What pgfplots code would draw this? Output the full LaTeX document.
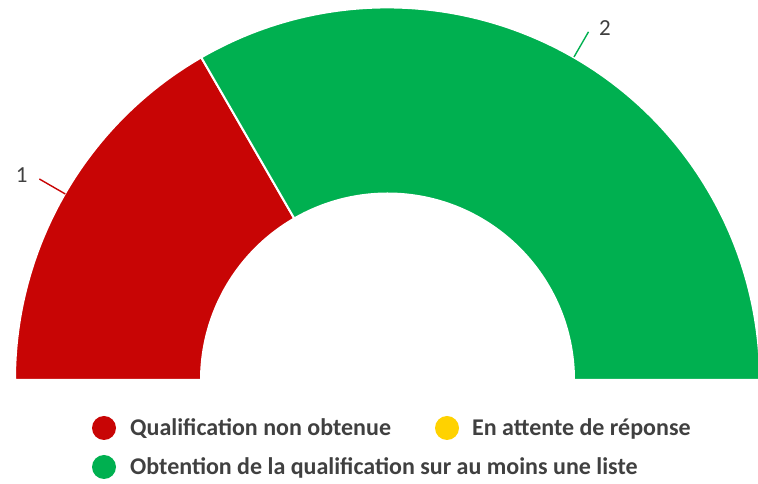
\documentclass[border=0pt]{standalone}
\usepackage{fontspec}
\setmainfont{Carlito}
\usepackage{pgfplots}
\usepackage{pgfplotstable}
\pgfplotsset{compat=1.18}

\definecolor{cRed}{RGB}{200,5,5}
\definecolor{cYellow}{RGB}{255,210,0}
\definecolor{cGreen}{RGB}{0,176,80}
\definecolor{cText}{RGB}{64,64,64}

% one row per category: value shown on the half donut
\pgfplotstableread{
id value
1 1
2 0
3 2
}\slices

\begin{document}
\begin{tikzpicture}
% angles of the half donut (180 -> 0 degrees), from the table
\pgfplotstablegetelem{0}{value}\of\slices \let\vA\pgfplotsretval
\pgfplotstablegetelem{1}{value}\of\slices \let\vB\pgfplotsretval
\pgfplotstablegetelem{2}{value}\of\slices \let\vC\pgfplotsretval
\pgfmathsetmacro\tot{\vA+\vB+\vC}
\pgfmathsetmacro\aA{180-180*\vA/\tot}
\pgfmathsetmacro\aB{\aA-180*\vB/\tot}
\pgfmathsetmacro\aC{\aB-180*\vC/\tot}
\pgfmathsetmacro\mA{(180+\aA)/2}
\pgfmathsetmacro\mC{(\aB+\aC)/2}
\def\Ro{372.5}
\def\Ri{186.5}
\begin{axis}[
  x=1pt, y=1pt,
  xmin=-387.5, xmax=370.5, ymin=-104, ymax=380,
  hide axis, clip=true,
]
\coordinate (ll) at (axis cs:-387.5,-104);
\coordinate (ur) at (axis cs:370.5,380);
% red slice
\fill[cRed, draw=white, line width=2pt]
  (axis cs:{\Ro*cos(180)},{\Ro*sin(180)}) arc[start angle=180, end angle=\aA, radius=\Ro pt]
  -- (axis cs:{\Ri*cos(\aA)},{\Ri*sin(\aA)}) arc[start angle=\aA, end angle=180, radius=\Ri pt] -- cycle;
% green slice
\fill[cGreen, draw=white, line width=2pt]
  (axis cs:{\Ro*cos(\aB)},{\Ro*sin(\aB)}) arc[start angle=\aB, end angle=\aC, radius=\Ro pt]
  -- (axis cs:{\Ri*cos(\aC)},{\Ri*sin(\aC)}) arc[start angle=\aC, end angle=\aB, radius=\Ri pt] -- cycle;
% data labels with leader lines
\draw[cRed, line width=1.4pt] (axis cs:{372*cos(\mA)},{372*sin(\mA)}) -- (axis cs:{402*cos(\mA)},{402*sin(\mA)})
  node[anchor=east, text=cText, font=\fontsize{23}{26}\selectfont, inner sep=2pt, xshift=-9pt, yshift=4pt] {\vA};
\draw[cGreen, line width=1.4pt] (axis cs:{373*cos(\mC)},{373*sin(\mC)}) -- (axis cs:{402*cos(\mC)},{402*sin(\mC)})
  node[anchor=west, text=cText, font=\fontsize{23}{26}\selectfont, inner sep=2pt, xshift=8pt, yshift=4pt] {\vC};
% legend
\fill[cRed] (axis cs:-283.5,-48) circle[radius=12pt];
\node[anchor=west, text=cText, font=\bfseries\fontsize{24}{27}\selectfont, inner sep=0pt] at (axis cs:-257.5,-49) {Qualification non obtenue};
\fill[cYellow] (axis cs:59.5,-48) circle[radius=12pt];
\node[anchor=west, text=cText, font=\bfseries\fontsize{24}{27}\selectfont, inner sep=0pt] at (axis cs:84.5,-49) {En attente de réponse};
\fill[cGreen] (axis cs:-283.5,-87) circle[radius=12pt];
\node[anchor=west, text=cText, font=\bfseries\fontsize{24}{27}\selectfont, inner sep=0pt] at (axis cs:-257.5,-88) {Obtention de la qualification sur au moins une liste};
\end{axis}
\pgfresetboundingbox
\path[use as bounding box] (ll) rectangle (ur);
\end{tikzpicture}
\end{document}
